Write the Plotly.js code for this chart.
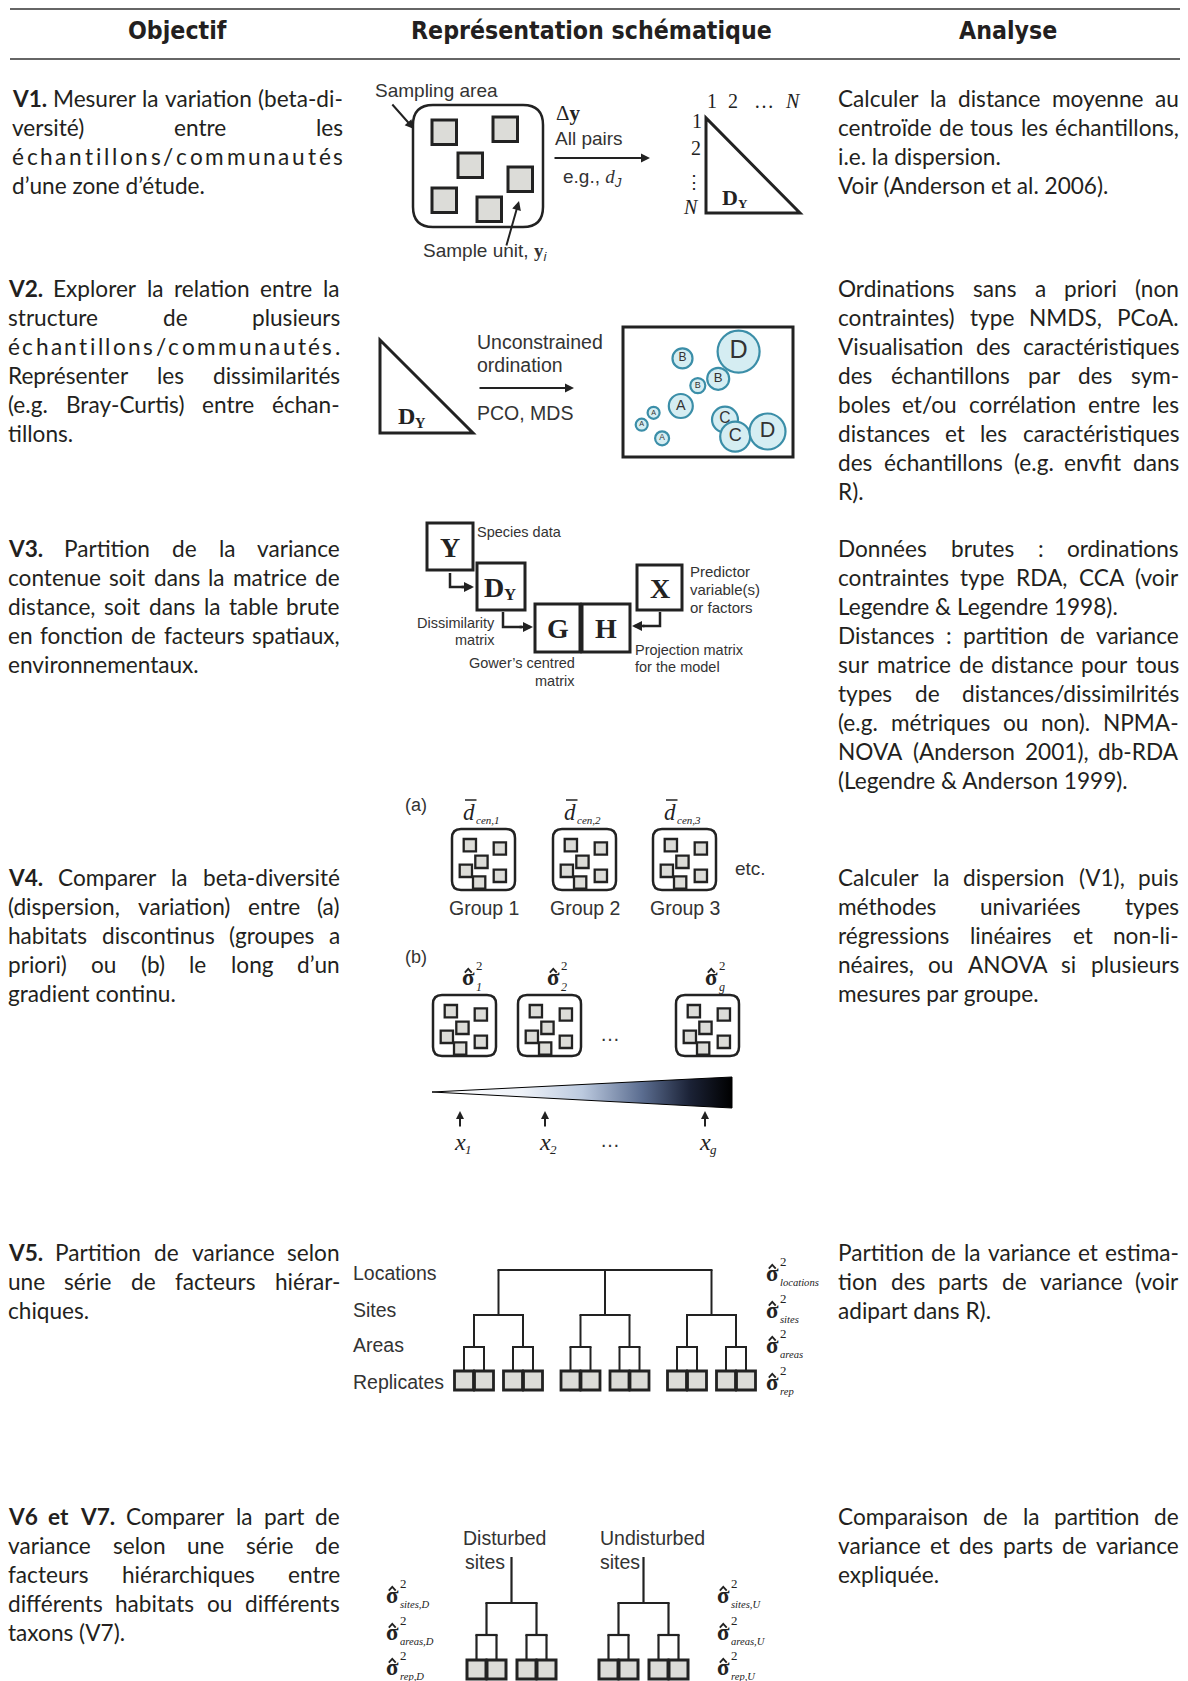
<!DOCTYPE html>
<html><head><meta charset="utf-8">
<script src="https://cdn.plot.ly/plotly-3.0.1.min.js"></script>
<style>html,body{margin:0;padding:0;background:#fff}</style>
</head><body><div id="chart" style="width:1188px;height:1681px"></div>
<script>
// ================= DATA =================
const headers = ["Objectif", "Représentation schématique", "Analyse"];
const objLeads = ["V1.", "V2.", "V3.", "V4.", "V5.", "V6 et V7."];
const objText = [
  [["V1. Mesurer la variation (beta-di-", "versité) entre les", "échantillons/communautés", "d’une zone d’étude."]],
  [["V2. Explorer la relation entre la", "structure de plusieurs", "échantillons/communautés.", "Représenter les dissimilarités", "(e.g. Bray-Curtis) entre échan-", "tillons."]],
  [["V3. Partition de la variance", "contenue soit dans la matrice de", "distance, soit dans la table brute", "en fonction de facteurs spatiaux,", "environnementaux."]],
  [["V4. Comparer la beta-diversité", "(dispersion, variation) entre (a)", "habitats discontinus (groupes a", "priori) ou (b) le long d’un", "gradient continu."]],
  [["V5. Partition de variance selon", "une série de facteurs hiérar-", "chiques."]],
  [["V6 et V7. Comparer la part de", "variance selon une série de", "facteurs hiérarchiques entre", "différents habitats ou différents", "taxons (V7)."]]
];
const anaText = [
  [["Calculer la distance moyenne au", "centroïde de tous les échantillons,", "i.e. la dispersion."], ["Voir (Anderson et al. 2006)."]],
  [["Ordinations sans a priori (non", "contraintes) type NMDS, PCoA.", "Visualisation des caractéristiques", "des échantillons par des sym-", "boles et/ou corrélation entre les", "distances et les caractéristiques", "des échantillons (e.g. envfit dans", "R)."]],
  [["Données brutes : ordinations", "contraintes type RDA, CCA (voir", "Legendre & Legendre 1998)."], ["Distances : partition de variance", "sur matrice de distance pour tous", "types de distances/dissimilrités", "(e.g. métriques ou non). NPMA-", "NOVA (Anderson 2001), db-RDA", "(Legendre & Anderson 1999)."]],
  [["Calculer la dispersion (V1), puis", "méthodes univariées types", "régressions linéaires et non-li-", "néaires, ou ANOVA si plusieurs", "mesures par groupe."]],
  [["Partition de la variance et estima-", "tion des parts de variance (voir", "adipart dans R)."]],
  [["Comparaison de la partition de", "variance et des parts de variance", "expliquée."]]
];
// V2 ordination scores (axis units), labels, bubble sizes
const ordLabels = ["B", "D", "B", "B", "A", "A", "A", "A", "C", "C", "D"];
const ordX = [3.5, 6.8, 5.6, 4.4, 3.4, 1.8, 1.1, 2.3, 6.0, 6.6, 8.5];
const ordY = [5.8, 6.2, 4.6, 4.2, 3.0, 2.6, 1.9, 1.1, 2.2, 1.2, 1.5];
const ordSize = [20, 42, 22, 15, 24, 12, 12, 14, 26, 30, 36];
// V4
const groupLabels = ["Group 1", "Group 2", "Group 3"];
const groupSubs = ["cen,1", "cen,2", "cen,3"];
const gradSubs = ["1", "2", "g"];
// V5
const levelNames = ["Locations", "Sites", "Areas", "Replicates"];
const levelSubs = ["locations", "sites", "areas", "rep"];
const hierBranching = [3, 2, 2];
// V6
const treeNames = [["Disturbed", "sites"], ["Undisturbed", "sites"]];
const treeSubsD = ["sites,D", "areas,D", "rep,D"];
const treeSubsU = ["sites,U", "areas,U", "rep,U"];
const treeBranching = [2, 2];

// ================= HELPERS =================
const SANS = "'Liberation Sans', Arial, sans-serif";
const SERIF = "'Liberation Serif', 'DejaVu Serif', serif";
const BODYFAM = "Lato, 'Noto Sans', sans-serif";
const HEADFAM = "'Liberation Sans Narrow', 'DejaVu Sans Condensed', 'Liberation Sans', sans-serif";
const INK = '#333333', BODYC = '#231f20', LINE = '#222222', SQF = '#dcdcd8';
const anns = [], shapes = [];
const cv = document.createElement('canvas').getContext('2d');
function tw(s, size, fam, bold, italic) {
  cv.font = (italic ? 'italic ' : '') + (bold ? 'bold ' : '') + size + 'px ' + fam;
  return cv.measureText(s).width;
}
function esc(s) { return s.replace(/&/g, '&amp;').replace(/</g, '&lt;').replace(/>/g, '&gt;'); }
function T(x, y, text, o) {
  o = o || {};
  anns.push({x: x, y: y, xref: 'x', yref: 'y', text: text, showarrow: false,
    xanchor: o.xa || 'left', yanchor: o.ya || 'middle', borderpad: 0, borderwidth: 0,
    font: {family: o.fam || SANS, size: o.size || 19, color: o.color || INK}});
}
function L(x0, y0, x1, y1, w, c) {
  shapes.push({type: 'line', xref: 'x', yref: 'y', x0: x0, y0: y0, x1: x1, y1: y1, line: {color: c || LINE, width: w || 2}});
}
function R(x0, y0, x1, y1, o) {
  o = o || {};
  shapes.push({type: 'rect', xref: 'x', yref: 'y', x0: x0, y0: y0, x1: x1, y1: y1,
    line: {color: o.c || LINE, width: o.w || 2.5}, fillcolor: o.fill || 'rgba(0,0,0,0)'});
}
function P(d, w, fill) {
  shapes.push({type: 'path', xref: 'x', yref: 'y', path: d, line: {color: LINE, width: w || 2}, fillcolor: fill || 'rgba(0,0,0,0)'});
}
function RR(x0, y0, x1, y1, r, w) {
  P('M' + (x0 + r) + ',' + y0 + ' L' + (x1 - r) + ',' + y0 + ' Q' + x1 + ',' + y0 + ' ' + x1 + ',' + (y0 + r) +
    ' L' + x1 + ',' + (y1 - r) + ' Q' + x1 + ',' + y1 + ' ' + (x1 - r) + ',' + y1 +
    ' L' + (x0 + r) + ',' + y1 + ' Q' + x0 + ',' + y1 + ' ' + x0 + ',' + (y1 - r) +
    ' L' + x0 + ',' + (y0 + r) + ' Q' + x0 + ',' + y0 + ' ' + (x0 + r) + ',' + y0 + ' Z', w || 2.5);
}
function A(tx, ty, hx, hy, w, head, size) {
  anns.push({x: hx, y: hy, ax: tx, ay: ty, xref: 'x', yref: 'y', axref: 'x', ayref: 'y', text: '',
    showarrow: true, arrowhead: head || 2, arrowsize: size || 1, arrowwidth: w || 2, arrowcolor: LINE, standoff: 0});
}
function sq(x0, y0, s, w) { R(x0, y0, x0 + s, y0 + s, {fill: SQF, w: w || 2.5}); }
function sigma(x, y, sub, fs) {
  const w = tw('σ', fs, SERIF, true);
  T(x, y, '<b>σ</b>', {fam: SERIF, size: fs, color: LINE});
  const base = y + 0.338 * fs, xtop = base - 0.46 * fs;
  const hx = x + w / 2, hw = fs * 0.15;
  P('M' + (hx - hw) + ',' + (xtop - 1.5) + ' L' + hx + ',' + (xtop - 1.5 - fs * 0.17) + ' L' + (hx + hw) + ',' + (xtop - 1.5), 1.8);
  T(x + w + 1, y - 0.5 * fs, '2', {fam: SERIF, size: fs * 0.56, color: LINE});
  if (sub) T(x + w + 1, y + 0.42 * fs, '<i>' + sub + '</i>', {fam: SERIF, size: fs * 0.46, color: LINE});
}
function DY(x, y, fs) {
  const w = tw('D', fs, SERIF, true);
  T(x, y, '<b>D</b>', {fam: SERIF, size: fs, color: LINE});
  T(x + w, y + 0.28 * fs, '<b>Y</b>', {fam: SERIF, size: fs * 0.6, color: LINE});
}

// ================= TEXT COLUMNS =================
const BODY = 100 * 271 / tw("Voir (Anderson et al. 2006).", 100, BODYFAM);
const LH = 29.1;
function placeLine(line, x0, x1, y, just, nb) {
  const words = line.split(' ');
  const o = {fam: BODYFAM, size: BODY, color: BODYC};
  const mk = (w, i) => i < nb ? '<b>' + esc(w) + '</b>' : esc(w);
  if (!just) { T(x0, y, words.map(mk).join(' '), o); return; }
  if (words.length === 1) {
    const ch = Array.from(line);
    const ws = ch.map(c => tw(c, BODY, BODYFAM));
    const gap = (x1 - x0 - ws.reduce((a, b) => a + b, 0)) / (ch.length - 1);
    let x = x0;
    ch.forEach((c, i) => { T(x, y, esc(c), o); x += ws[i] + gap; });
    return;
  }
  const ws = words.map((w, i) => tw(w, BODY, BODYFAM, i < nb));
  const gap = (x1 - x0 - ws.reduce((a, b) => a + b, 0)) / (words.length - 1);
  let x = x0;
  words.forEach((w, i) => {
    if (i === words.length - 1) T(x1, y, mk(w, i), Object.assign({xa: 'right'}, o));
    else T(x, y, mk(w, i), o);
    x += ws[i] + gap;
  });
}
function block(paras, x0, x1, y0, nb) {
  let y = y0, first = true;
  paras.forEach(para => para.forEach((line, i) => {
    placeLine(line, x0, x1, y, i < para.length - 1, first ? nb : 0);
    first = false; y += LH;
  }));
}
const rowY = [98, 288, 548, 877, 1252, 1516];
objText.forEach((p, i) => block(p, i === 0 ? 12 : 8, i === 0 ? 343 : 340, rowY[i], objLeads[i].split(' ').length));
anaText.forEach((p, i) => block(p, 838, 1179, rowY[i], 0));

// headers + rules
const HS = 100 * 361 / tw(headers[1], 100, HEADFAM, true);
[177, 591, 1008].forEach((x, i) => T(x, 30, '<b>' + esc(headers[i]) + '</b>', {fam: HEADFAM, size: HS, xa: 'center', color: BODYC}));
L(10, 9, 1180, 9, 1.6, '#333');
L(10, 59, 1180, 59, 1.6, '#333');

// ================= V1 =================
T(375, 90, 'Sampling area');
A(391, 103, 414, 129, 2, 2, 0.9);
RR(413, 105, 543, 227, 20, 2.5);
[[432, 120], [493, 117], [458, 153], [508, 167], [432, 188], [477, 197]].forEach(p => sq(p[0], p[1], 24.5, 3));
A(506, 247, 519, 201, 2, 2, 0.9);
T(423, 252, 'Sample unit, <span style="font-family:Liberation Serif"><b>y</b></span><sub><i>i</i></sub>');
T(556, 113, 'Δ<b>y</b>', {fam: SERIF, size: 21, color: LINE});
T(555, 138, 'All pairs');
A(553, 158, 650, 158, 2, 2, 0.9);
T(563, 178, 'e.g., <span style="font-family:Liberation Serif"><i>d</i></span><sub><i>J</i></sub>');
P('M706,118 L706,213 L800,213 Z', 3);
T(712, 101, '1', {fam: SERIF, size: 20, xa: 'center', color: LINE});
T(733, 101, '2', {fam: SERIF, size: 20, xa: 'center', color: LINE});
T(764, 101, '…', {fam: SERIF, size: 20, xa: 'center', color: LINE});
T(793, 101, '<i>N</i>', {fam: SERIF, size: 20, xa: 'center', color: LINE});
T(697, 121, '1', {fam: SERIF, size: 20, xa: 'center', color: LINE});
T(696, 148, '2', {fam: SERIF, size: 20, xa: 'center', color: LINE});
T(694, 182, '⋮', {fam: SERIF, size: 18, xa: 'center', color: LINE});
T(691, 207, '<i>N</i>', {fam: SERIF, size: 20, xa: 'center', color: LINE});
DY(722, 197, 22);

// ================= V2 =================
P('M380,340 L380,433 L473,433 Z', 3);
DY(398, 416, 24);
T(477, 342, 'Unconstrained', {size: 19.5});
T(477, 365, 'ordination', {size: 19.5});
A(478, 388, 574, 388, 2, 2, 0.9);
T(477, 413, 'PCO, MDS', {size: 19.5});
R(623, 327, 793, 457, {w: 3});

// ================= V3 =================
const BIG = 28;
R(427, 523, 473, 570, {w: 3});
T(450, 547, '<b>Y</b>', {fam: SERIF, size: BIG, xa: 'center', color: LINE});
T(477, 532, 'Species data', {size: 14.5});
R(477, 563, 525, 610, {w: 3});
DY(484, 587, BIG);
P('M450,573 L450,587 L464,587', 2.5);
A(460, 587, 474, 587, 2.5, 2, 0.8);
R(535, 604, 580, 652, {w: 3});
R(582, 604, 630, 652, {w: 3});
T(557.5, 628, '<b>G</b>', {fam: SERIF, size: BIG, xa: 'center', color: LINE});
T(606, 628, '<b>H</b>', {fam: SERIF, size: BIG, xa: 'center', color: LINE});
P('M503,612 L503,627 L522,627', 2.5);
A(518, 627, 533, 627, 2.5, 2, 0.8);
R(637, 565, 682, 610, {w: 3});
T(659.5, 588, '<b>X</b>', {fam: SERIF, size: BIG, xa: 'center', color: LINE});
P('M660,612 L660,626 L643,626', 2.5);
A(646, 626, 632, 626, 2.5, 2, 0.8);
T(690, 571, 'Predictor', {size: 15});
T(690, 589, 'variable(s)', {size: 15});
T(690, 607, 'or factors', {size: 15});
T(495, 623, 'Dissimilarity', {size: 14.5, xa: 'right'});
T(495, 640, 'matrix', {size: 14.5, xa: 'right'});
T(575, 663, 'Gower’s centred', {size: 14.5, xa: 'right'});
T(575, 681, 'matrix', {size: 14.5, xa: 'right'});
T(635, 650, 'Projection matrix', {size: 14.5});
T(635, 667, 'for the model', {size: 14.5});

// ================= V4 =================
const SUBSQ = [[11.7, 10], [41.7, 13.3], [23.3, 26.7], [7.7, 35.7], [21, 47.3], [41.7, 40.7]];
function groupBox(x0, y0) {
  RR(x0, y0, x0 + 63, y0 + 61, 9, 2.5);
  SUBSQ.forEach(p => sq(x0 + p[0], y0 + p[1], 12.3, 2.3));
}
T(405, 805, '(a)', {size: 18});
[452, 553, 653].forEach((x0, i) => {
  groupBox(x0, 829);
  const dx = x0 + 11, dw = tw('d', 23, SERIF, false, true);
  T(dx, 812, '<i>d</i>', {fam: SERIF, size: 23, color: LINE});
  L(dx + 2, 800, dx + dw + 2, 800, 1.5);
  T(dx + dw + 1, 820, '<i>' + groupSubs[i] + '</i>', {fam: SERIF, size: 11, color: LINE});
  T(x0 + 32, 908, groupLabels[i], {size: 19.5, xa: 'center'});
});
T(735, 868, 'etc.', {size: 19});
T(405, 957, '(b)', {size: 18});
const bBoxes = [433, 518, 676];
bBoxes.forEach((x0, i) => {
  groupBox(x0, 995);
  sigma(x0 + 29, 977, null, 23);
  T(x0 + 29 + tw('σ', 23, SERIF, true) + 1, 987, '<i>' + gradSubs[i] + '</i>', {fam: SERIF, size: 12, color: LINE});
});
T(610, 1034, '…', {size: 20, xa: 'center'});
// gradient wedge
const wedge = {type: 'scatter', mode: 'lines', x: [432, 732, 732, 432], y: [1092, 1077, 1108, 1092],
  fill: 'toself', fillcolor: '#8090aa',
  fillgradient: {type: 'horizontal', colorscale: [[0, '#ffffff'], [0.3, '#eef2f8'], [0.5, '#bccadf'], [0.7, '#5b6d90'], [0.86, '#1b2236'], [1, '#000000']]},
  line: {color: '#000', width: 1}, hoverinfo: 'skip', xaxis: 'x', yaxis: 'y'};
[460, 545, 705].forEach((x, i) => {
  A(x, 1128, x, 1111, 2, 2, 0.8);
  const w = tw('x', 24, SERIF, false, true);
  T(x - 6, 1142, '<i>x</i>', {fam: SERIF, size: 24, color: LINE});
  T(x - 6 + w, 1149, '<i>' + gradSubs[i] + '</i>', {fam: SERIF, size: 13, color: LINE});
});
T(610, 1140, '…', {size: 20, xa: 'center'});

// ================= TREES =================
function drawTree(cx, branching, spacing, ys, sqs, stemTop, lw, sqw) {
  let nodes = [cx];
  if (stemTop !== null && stemTop !== undefined) L(cx, stemTop, cx, ys[0], lw);
  branching.forEach((b, lv) => {
    const next = [];
    nodes.forEach(n => {
      const kids = [];
      for (let k = 0; k < b; k++) kids.push(n + (k - (b - 1) / 2) * spacing[lv]);
      L(kids[0] - lw / 2, ys[lv], kids[b - 1] + lw / 2, ys[lv], lw);
      kids.forEach(k => L(k, ys[lv], k, ys[lv + 1], lw));
      next.push(...kids);
    });
    nodes = next;
  });
  const yb = ys[ys.length - 1];
  nodes.forEach(n => sq(n - sqs / 2, yb, sqs, sqw));
}
// V5
const v5Y = [1273, 1310, 1345, 1382];
levelNames.forEach((n, i) => T(353, v5Y[i], n, {size: 19.5}));
drawTree(605, hierBranching, [106.5, 49, 20], [1270, 1315, 1347, 1371], 19, null, 2, 2.8);
levelSubs.forEach((s, i) => sigma(766, v5Y[i], s, 23));
// V6
treeNames.forEach((nm, i) => {
  const x = i === 0 ? 463 : 600;
  T(x, 1538, nm[0], {size: 19.5});
  T(x + (i === 0 ? 2 : 0), 1562, nm[1], {size: 19.5});
});
drawTree(511.5, treeBranching, [50, 20], [1603, 1635, 1660], 19, 1557, 2.2, 3);
drawTree(643.5, treeBranching, [50, 20], [1603, 1635, 1660], 19, 1557, 2.2, 3);
const v6Y = [1595, 1632, 1667];
treeSubsD.forEach((s, i) => sigma(386, v6Y[i], s, 23));
treeSubsU.forEach((s, i) => sigma(717, v6Y[i], s, 23));

// ================= PLOT =================
const bubbles = {type: 'scatter', mode: 'markers+text', xaxis: 'x2', yaxis: 'y2',
  x: ordX, y: ordY, text: ordLabels, textposition: 'middle center', cliponaxis: false,
  marker: {size: ordSize, sizemode: 'diameter', color: '#d5edf2', opacity: 1, line: {color: '#3b8ea8', width: 2.2}},
  textfont: {size: ordSize.map(s => Math.max(6, s * 0.6)), color: '#333', family: SANS}, hoverinfo: 'skip'};

const layout = {
  width: 1188, height: 1681, margin: {l: 0, r: 0, t: 0, b: 0},
  paper_bgcolor: '#fff', plot_bgcolor: '#fff', showlegend: false, hovermode: false,
  xaxis: {range: [0, 1188], visible: false, fixedrange: true},
  yaxis: {range: [1681, 0], visible: false, fixedrange: true},
  xaxis2: {domain: [623 / 1188, 793 / 1188], range: [0, 10], visible: false, anchor: 'y2'},
  yaxis2: {domain: [1 - 457 / 1681, 1 - 327 / 1681], range: [0, 130 / 17], visible: false, anchor: 'x2'},
  shapes: shapes, annotations: anns
};
Plotly.newPlot('chart', [wedge, bubbles], layout, {staticPlot: true, displayModeBar: false});
</script></body></html>
